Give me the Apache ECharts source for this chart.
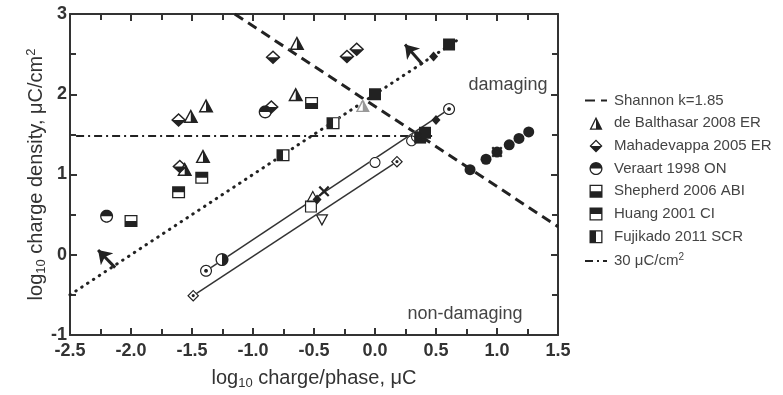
<!DOCTYPE html>
<html>
<head>
<meta charset="utf-8">
<script src="https://cdn.jsdelivr.net/npm/echarts@6/dist/echarts.min.js"></script>
<style>
  html, body { margin: 0; padding: 0; background: #fff; }
  #chart { width: 783px; height: 395px; }
</style>
</head>
<body>
<div id="chart"></div>
<script>
// values, log10 units: [charge/phase, charge density]
const deBalthasar = [[-0.64, 2.64], [-0.65, 2.00], [-1.51, 1.73], [-1.385, 1.86], [-1.56, 1.07], [-1.41, 1.23]]
const deBalthasarGrey = [[-0.10, 1.86]]
const mahadevappa = [[-0.836, 2.46], [-0.23, 2.47], [-0.15, 2.56], [-1.61, 1.68], [-0.85, 1.84], [-1.60, 1.10]]
const veraart = [[-0.90, 1.78], [-2.20, 0.48]]
const shepherd = [[-0.52, 1.89], [-2.00, 0.42]]
const huang = [[-1.42, 0.96], [-1.61, 0.78]]
const fujikado = [[-0.754, 1.24], [-0.344, 1.64]]

const filledSquares = [[0.0, 2.0], [0.607, 2.62], [0.37, 1.46], [0.41, 1.52]]
const filledDiamonds = [[0.48, 2.47], [0.50, 1.68], [-0.475, 0.69]]
const filledCircles = [[0.779, 1.06], [0.91, 1.19], [1.0, 1.28], [1.10, 1.37], [1.18, 1.45], [1.26, 1.53]]
const dotCircles = [[-1.385, -0.2], [0.607, 1.815]]
const dotDiamonds = [[-1.49, -0.51], [0.18, 1.16]]
const openCircles = [[0.0, 1.15], [0.30, 1.42], [0.34, 1.47]]
const halfCircles = [[-1.254, -0.06]]
const crosses = [[-0.418, 0.79], [1.0, 1.28]]
const openSquares = [[-0.525, 0.60]]
const openTriDown = [[-0.435, 0.43]]
const openTriUp = [[-0.51, 0.73]]

// lines
const shannonLine = [[-1.15, 3.0], [1.5, 0.35]]       // k = 1.85
const threshold30 = [[-2.45, 1.48], [0.5, 1.48]]      // log10(30)
const dottedLine = [[-2.5, -0.5], [0.68, 2.68]]
const fitUpper = [[-1.385, -0.2], [0.607, 1.815]]
const fitLower = [[-1.49, -0.51], [0.18, 1.16]]
const arrows = [[[-2.13, -0.16], [-2.27, 0.06]], [[0.39, 2.37], [0.246, 2.62]]]

const xTicks = [-2.5, 1.5, 0.5]
const yTicks = [-1, 3, 1]

const FONT = 'Liberation Sans, Arial, sans-serif'
const INK = '#222'
const NAME30 = '30 μC/cm2'

// ---- marker shapes (paths in a 0..100 box) ----
const T = 10
const pt = p => p[0].toFixed(2) + ' ' + p[1].toFixed(2)
const poly = pts => 'M' + pts.map(pt).join(' L') + ' Z '
const shrink = (pts, c, k) => pts.map(p => [c[0] + (p[0] - c[0]) * k, c[1] + (p[1] - c[1]) * k]).reverse()
const arc = (cx, cy, r, a0, a1, n) => {
  const out = []
  for (let i = 0; i <= n; i++) {
    const a = a0 + (a1 - a0) * i / n
    out.push([cx + r * Math.cos(a), cy + r * Math.sin(a)])
  }
  return out
}
const TRI = [[50, 0], [100, 100], [0, 100]]
const TRI_IN = shrink(TRI, [50, 69.1], 1 - T / 30.9)
const TRI_D = [[0, 0], [100, 0], [50, 100]]
const TRI_D_IN = shrink(TRI_D, [50, 30.9], 1 - T / 30.9)
const DIA = [[50, 0], [100, 50], [50, 100], [0, 50]]
const DIA_IN = shrink(DIA, [50, 50], 1 - T / 35.4)
const SQ = [[0, 0], [100, 0], [100, 100], [0, 100]]
const SQ_IN = shrink(SQ, [50, 50], 1 - T / 50)
const CIR = arc(50, 50, 50, 0, 2 * Math.PI, 36).slice(0, -1)
const CIR_IN = arc(50, 50, 50 - T, 0, 2 * Math.PI, 36).slice(0, -1).reverse()
const ring = (a, b) => poly(a) + poly(b)
const sym = s => 'path://' + s
const w = 14
const CROSS = [[0, w], [w, 0], [50, 50 - w], [100 - w, 0], [100, w], [50 + w, 50], [100, 100 - w], [100 - w, 100], [50, 50 + w], [w, 100], [0, 100 - w], [50 - w, 50]]

const S = {
  triHalf: sym(ring(TRI, TRI_IN) + poly([[50, 0], [100, 100], [50, 100]])),
  diaHalf: sym(ring(DIA, DIA_IN) + poly([[100, 50], [50, 100], [0, 50]])),
  cirTop: sym(ring(CIR, CIR_IN) + poly(arc(50, 50, 50, Math.PI, 2 * Math.PI, 18))),
  cirRight: sym(ring(CIR, CIR_IN) + poly(arc(50, 50, 50, -Math.PI / 2, Math.PI / 2, 18))),
  sqBottom: sym(ring(SQ, SQ_IN) + poly([[0, 50], [100, 50], [100, 100], [0, 100]])),
  sqTop: sym(ring(SQ, SQ_IN) + poly([[0, 0], [100, 0], [100, 50], [0, 50]])),
  sqLeft: sym(ring(SQ, SQ_IN) + poly([[0, 0], [50, 0], [50, 100], [0, 100]])),
  cirDot: sym(ring(CIR, CIR_IN) + poly(arc(50, 50, 16, 0, 2 * Math.PI, 16).slice(0, -1))),
  diaDot: sym(ring(DIA, DIA_IN) + poly(arc(50, 50, 13, 0, 2 * Math.PI, 16).slice(0, -1))),
  cirOpen: sym(ring(CIR, CIR_IN)),
  sqOpen: sym(ring(SQ, SQ_IN)),
  triOpen: sym(ring(TRI, TRI_IN)),
  triDownOpen: sym(ring(TRI_D, TRI_D_IN)),
  cross: sym(poly(CROSS)),
  tri: sym(poly(TRI)),
  triD: sym(poly(TRI_D)),
  dia: sym(poly(DIA)),
  sq: sym(poly(SQ)),
  cir: sym(poly(CIR))
}

function marks (name, data, symbol, size, bg, color) {
  const out = []
  if (bg) {
    out.push({ type: 'scatter', name: name + '_bg', data, symbol: bg, symbolSize: size, silent: true, z: 3, itemStyle: { color: '#fff', opacity: 1 } })
  }
  out.push({ type: 'scatter', name, data, symbol, symbolSize: size, z: 4, itemStyle: { color: color || INK, opacity: 1 } })
  return out
}

function line (name, data, lineStyle) {
  return {
    type: 'line', name, data, symbol: 'none', showSymbol: false, z: 2, silent: true,
    itemStyle: { color: INK, opacity: 0 },
    lineStyle: Object.assign({ color: INK, opacity: 1 }, lineStyle)
  }
}

const axisCommon = {
  type: 'value',
  axisLine: { show: true, onZero: false, lineStyle: { color: '#333', width: 2 } },
  axisTick: { show: true, inside: true, length: 7, lineStyle: { color: '#333', width: 2 } },
  minorTick: { show: true, splitNumber: 2, length: 6, lineStyle: { color: '#333', width: 2 } },
  splitLine: { show: false },
  minorSplitLine: { show: false }
}
const labelStyle = { fontFamily: FONT, fontWeight: 'bold', fontSize: 18, color: '#333' }
const nameStyle = {
  fontFamily: FONT,
  fontSize: 20,
  color: '#333',
  rich: {
    n: { fontFamily: FONT, fontSize: 20, color: '#333' },
    sub: { fontFamily: FONT, fontSize: 13, color: '#333', padding: [10, 0, 0, 0] },
    sup: { fontFamily: FONT, fontSize: 13, color: '#333', padding: [0, 0, 10, 0] }
  }
}

const chart = echarts.init(document.getElementById('chart'), null, { renderer: 'canvas' })
chart.setOption({
  animation: false,
  backgroundColor: '#fff',
  grid: { left: 70, right: 225, top: 14, bottom: 57 },
  xAxis: [
    Object.assign({}, axisCommon, {
      min: xTicks[0], max: xTicks[1], interval: xTicks[2], position: 'bottom',
      axisLabel: Object.assign({ margin: 7, formatter: v => v.toFixed(1) }, labelStyle),
      name: '{n|log}{sub|10}{n| charge/phase, μC}',
      nameLocation: 'middle', nameGap: 32, nameTextStyle: nameStyle
    }),
    Object.assign({}, axisCommon, {
      min: xTicks[0], max: xTicks[1], interval: xTicks[2], position: 'top',
      axisLabel: { show: false }
    })
  ],
  yAxis: [
    Object.assign({}, axisCommon, {
      min: yTicks[0], max: yTicks[1], interval: yTicks[2], position: 'left',
      axisLabel: Object.assign({ margin: 3 }, labelStyle),
      name: '{n|log}{sub|10}{n| charge density, μC/cm}{sup|2}',
      nameLocation: 'middle', nameGap: 22, nameMoveOverlap: false, nameTextStyle: nameStyle
    }),
    Object.assign({}, axisCommon, {
      min: yTicks[0], max: yTicks[1], interval: yTicks[2], position: 'right',
      axisLabel: { show: false }
    })
  ],
  legend: {
    orient: 'vertical',
    left: 579,
    top: 88,
    itemWidth: 22,
    itemHeight: 13,
    itemGap: 7.7,
    selectedMode: false,
    data: ['Shannon k=1.85', 'de Balthasar 2008 ER', 'Mahadevappa 2005 ER', 'Veraart 1998 ON', 'Shepherd 2006 ABI', 'Huang 2001 CI', 'Fujikado 2011 SCR', NAME30],
    formatter: n => n === NAME30 ? '30 μC/cm{sup|2}' : n,
    textStyle: {
      fontFamily: FONT, fontSize: 15, color: '#444', padding: [0, 0, 0, 2],
      rich: { sup: { fontFamily: FONT, fontSize: 10, color: '#444', padding: [0, 0, 8, 0] } }
    }
  },
  graphic: [
    { type: 'text', x: 508, y: 85, style: { text: 'damaging', fontFamily: FONT, fontSize: 18, fill: '#444', align: 'center', verticalAlign: 'middle' } },
    { type: 'text', x: 465, y: 314, style: { text: 'non-damaging', fontFamily: FONT, fontSize: 18, fill: '#444', align: 'center', verticalAlign: 'middle' } }
  ],
  series: [
    line('Shannon k=1.85', shannonLine, { type: [10, 6], width: 3 }),
    line(NAME30, threshold30, { type: [8, 4, 2, 4], width: 1.8 }),
    line('dotted', dottedLine, { type: [0.5, 6.5], width: 3, cap: 'round' }),
    line('fitUpper', fitUpper, { width: 1.5, color: '#333' }),
    line('fitLower', fitLower, { width: 1.5, color: '#333' }),
    {
      type: 'lines', coordinateSystem: 'cartesian2d', z: 2, silent: true,
      data: arrows.map(c => ({ coords: c })),
      symbol: ['none', 'arrow'], symbolSize: 13,
      lineStyle: { color: INK, width: 3, opacity: 1 }
    },
    ...marks('de Balthasar 2008 ER', deBalthasar, S.triHalf, [15, 14], S.tri),
    ...marks('deBalthasarGrey', deBalthasarGrey, S.triHalf, [14, 13], S.tri, '#999'),
    ...marks('Mahadevappa 2005 ER', mahadevappa, S.diaHalf, [15, 14], S.dia),
    ...marks('Veraart 1998 ON', veraart, S.cirTop, 13, S.cir),
    ...marks('Shepherd 2006 ABI', shepherd, S.sqBottom, [13, 12], S.sq),
    ...marks('Huang 2001 CI', huang, S.sqTop, [13, 12], S.sq),
    ...marks('Fujikado 2011 SCR', fujikado, S.sqLeft, [13, 12], S.sq),
    ...marks('filledSquares', filledSquares, 'rect', 12),
    ...marks('filledDiamonds', filledDiamonds, 'diamond', [9, 10]),
    ...marks('filledCircles', filledCircles, 'circle', 11),
    ...marks('dotCircles', dotCircles, S.cirDot, 12, S.cir),
    ...marks('dotDiamonds', dotDiamonds, S.diaDot, 12, S.dia),
    ...marks('openCircles', openCircles, S.cirOpen, 11, S.cir),
    ...marks('halfCircles', halfCircles, S.cirRight, 13, S.cir),
    ...marks('openSquares', openSquares, S.sqOpen, 12, S.sq),
    ...marks('openTriDown', openTriDown, S.triDownOpen, [13, 12], S.triD),
    ...marks('openTriUp', openTriUp, S.triOpen, [13, 12], S.tri),
    ...marks('crosses', crosses, S.cross, 11)
  ]
})
</script>
</body>
</html>
